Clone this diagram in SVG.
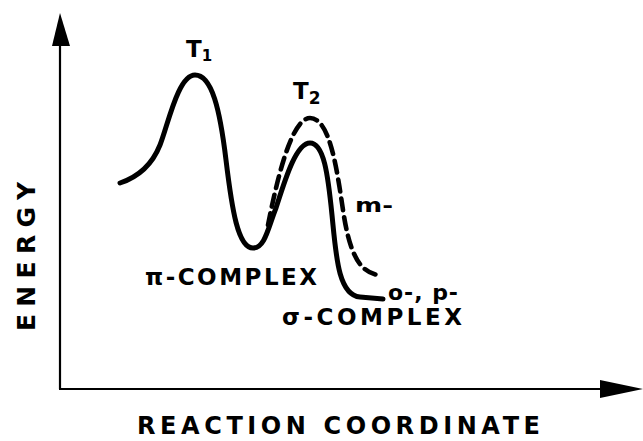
<svg xmlns="http://www.w3.org/2000/svg" width="643" height="441" viewBox="0 0 643 441">
<style>
.lbl{font-family:"DejaVu Sans","Liberation Sans",Arial,sans-serif;font-weight:bold;fill:#000}
.axis{stroke:#000;stroke-width:2.2;fill:none}
.curve{stroke:#000;stroke-width:5;fill:none;stroke-linecap:round;stroke-linejoin:round}
.dash{stroke:#000;stroke-width:4.6;fill:none;stroke-dasharray:12 7;stroke-linecap:round}
</style>
<rect width="643" height="441" fill="#fff"/>
<g id="axes">
<line class="axis" x1="60" y1="40" x2="60" y2="389"/>
<line class="axis" x1="59" y1="389" x2="605" y2="389"/>
<polygon points="60,13 52,46 70,46" fill="#000"/>
<polygon points="643,389 600,380 600,398" fill="#000"/>
</g>
<g id="curves">
<path id="solid" class="curve" d="M120,183 C138,177 152,165 160,145 C168,125 178,75 195,75 C212,75 220,110 226,160 C232,210 238,248 253,248 C265,248 268,228 276,208 C285,180 296,143 310,143 C324,143 328,175 332,215 C336,255 338,295 360,297 L383,299"/>
<path id="meta" class="dash" d="M268,225 C275,190 290,118 310,118 C330,118 337,170 343,210 C349,250 358,272 378,275"/>
</g>
<g id="labels">
<text class="lbl" x="186" y="57" font-size="23">T<tspan font-size="15" dy="4">1</tspan></text>
<text class="lbl" x="293" y="99" font-size="23">T<tspan font-size="17" dy="5">2</tspan></text>
<text class="lbl" x="355" y="212" font-size="19" textLength="38" lengthAdjust="spacingAndGlyphs">m-</text>
<text class="lbl" x="145" y="285" font-size="23" textLength="172" lengthAdjust="spacing">π-COMPLEX</text>
<text class="lbl" x="388" y="300" font-size="22" textLength="70" lengthAdjust="spacing">o-, p-</text>
<text class="lbl" x="282" y="325" font-size="23" textLength="180" lengthAdjust="spacing">σ-COMPLEX</text>
<text class="lbl" x="137" y="434" font-size="24" textLength="403" lengthAdjust="spacing">REACTION  COORDINATE</text>
<text class="lbl" transform="translate(35,331) rotate(-90)" x="0" y="0" font-size="25" textLength="149" lengthAdjust="spacing">ENERGY</text>
</g>
</svg>
